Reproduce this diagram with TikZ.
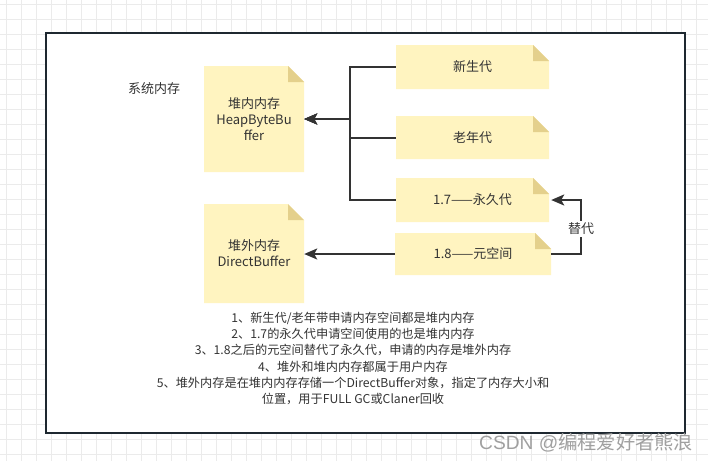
\documentclass[tikz,border=0pt]{standalone}
\usepackage{fontspec}
\setmainfont{Noto Sans CJK SC}
\newfontfamily\wmfont{Liberation Sans}
\usetikzlibrary{arrows.meta,calc}
\definecolor{notefill}{HTML}{FFF4C0}
\definecolor{notefold}{HTML}{E4D08C}
\definecolor{ink}{HTML}{333333}
\definecolor{framec}{HTML}{1E2830}
\definecolor{gridc}{HTML}{EBEBEB}
\definecolor{wmc}{HTML}{A0A0A0}
\tikzset{
  notetext/.style={shape=rectangle, inner sep=0pt, align=center, text=ink,
    font=\fontsize{13}{16}\selectfont},
  conn/.style={draw=ink, line width=2pt},
  arr/.style={conn, -{Stealth[length=13pt,width=11pt,inset=3pt]}},
  plain/.style={text=ink, font=\fontsize{12.2}{16.3}\selectfont, align=center, inner sep=1pt},
}
\newcommand\notebox[6]{%
  \fill[notefill] ({#2},{#3}) -- ({#4-16},{#3}) -- ({#4},{#3+16}) -- ({#4},{#5}) -- ({#2},{#5}) -- cycle;
  \fill[notefold] ({#4-16},{#3}) -- ({#4-16},{#3+16}) -- ({#4},{#3+16}) -- cycle;
  \node[notetext, minimum width={(#4-#2)*1pt}, minimum height={(#5-#3)*1pt}] (#1) at ({(#2+#4)/2},{(#3+#5)/2}) {#6};%
}
\begin{document}
\begin{tikzpicture}[x=1pt,y=-1pt]
\useasboundingbox (0,0) rectangle (708,461);
\fill[white] (0,0) rectangle (708,461);
\foreach \i in {0,...,47} \draw[gridc, line width=1pt] ({6.7+15*\i},0) -- ({6.7+15*\i},461);
\foreach \j in {0,...,30} \draw[gridc, line width=1pt] (0,{4+15*\j}) -- (708,{4+15*\j});
\fill[white] (46,33) rectangle (685,433);
\draw[framec, line width=2pt] (46,33) rectangle (685,433);

\node[plain, font=\fontsize{13}{16}\selectfont] (sys) at (154,89) {系统内存};

\notebox{heap}{204}{66}{304}{172}{堆内内存\\HeapByteBu\\ffer}
\notebox{direct}{204}{204}{304}{303}{堆外内存\\DirectBuffer}
\notebox{xin}{396}{45}{549}{89}{新生代}
\notebox{lao}{396}{116}{549}{159}{老年代}
\notebox{yong}{396}{178}{549}{222}{1.7——永久代}
\notebox{yuan}{395}{233}{551}{275}{1.8——元空间}

\coordinate (jx) at (350,0);
\coordinate (rx) at (581,0);
\draw[arr] (xin.west) -- (jx |- xin.west) |- (heap.east);
\draw[arr] (lao.west) -- (jx |- lao.west) |- (heap.east);
\draw[arr] (yong.west) -- (jx |- yong.west) |- (heap.east);
\draw[arr] (yuan.west) -- (yuan.west -| direct.east);
\draw[arr] (yuan.east) -- (rx |- yuan.east) |- ([xshift=2pt]yong.east);
\node[plain, fill=white, inner sep=2pt, font=\fontsize{13}{16}\selectfont] (lbl) at (581,229) {替代};

\node[plain] (notes) at (353,358.5) {1、新生代/老年带申请内存空间都是堆内内存\\
2、1.7的永久代申请空间使用的也是堆内内存\\
3、1.8之后的元空间替代了永久代，申请的内存是堆外内存\\
4、堆外和堆内内存都属于用户内存\\
5、堆外内存是在堆内内存存储一个DirectBuffer对象，指定了内存大小和\\
位置，用于FULL GC或Claner回收};

\node[text=wmc, font=\fontsize{19.2}{19.2}\selectfont, anchor=east, inner sep=0pt] (wm) at (693,443) {{\wmfont CSDN @}编程爱好者熊浪};
\end{tikzpicture}
\end{document}
